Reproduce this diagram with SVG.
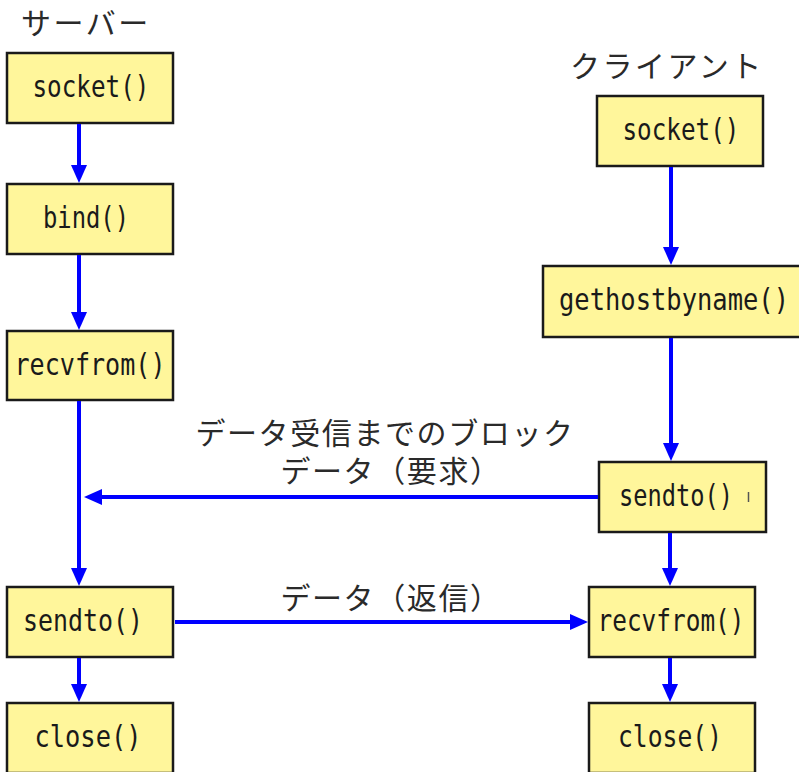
<svg xmlns="http://www.w3.org/2000/svg" width="799" height="772" viewBox="0 0 799 772">
  <defs>
    <style>
      .box { fill: #fff69b; stroke: #1a1a1a; stroke-width: 2.5; }
      .fn { font-family: "DejaVu Sans Mono", "Liberation Mono", monospace; font-size: 30px; fill: #1a1a1a; text-anchor: middle; }
      .jp { font-family: "Noto Sans CJK JP", "Noto Sans", sans-serif; font-size: 30px; fill: #2a2a2a; }
      .head { letter-spacing: 2.5px; }
      .lbl { text-anchor: middle; letter-spacing: 1.6px; }
      .flow { stroke: #0000ff; stroke-width: 4; fill: none; }
    </style>
    <marker id="arrow" markerUnits="userSpaceOnUse" markerWidth="24" markerHeight="20" viewBox="0 -10 24 20" refX="8" refY="0" orient="auto">
      <path d="M0,-8 L18,0 L0,8 Z" fill="#0000ff"/>
    </marker>
  </defs>

  <rect width="799" height="772" fill="#ffffff"/>

  <!-- column headings -->
  <text class="jp head" x="21" y="34">サーバー</text>
  <text class="jp head" x="570" y="77">クライアント</text>

  <!-- server side -->
  <g id="srv-socket">
    <rect class="box" x="7" y="53" width="166" height="70"/>
    <text class="fn" x="91" y="97" textLength="117" lengthAdjust="spacingAndGlyphs">socket()</text>
  </g>
  <g id="srv-bind">
    <rect class="box" x="7" y="184" width="166" height="70"/>
    <text class="fn" x="86" y="228" textLength="86" lengthAdjust="spacingAndGlyphs">bind()</text>
  </g>
  <g id="srv-recvfrom">
    <rect class="box" x="7" y="331" width="166" height="69"/>
    <text class="fn" x="90" y="375" textLength="151" lengthAdjust="spacingAndGlyphs">recvfrom()</text>
  </g>
  <g id="srv-sendto">
    <rect class="box" x="7" y="587" width="166" height="70"/>
    <text class="fn" x="83" y="631" textLength="120" lengthAdjust="spacingAndGlyphs">sendto()</text>
  </g>
  <g id="srv-close">
    <rect class="box" x="7" y="703" width="166" height="70"/>
    <text class="fn" x="88" y="747" textLength="107" lengthAdjust="spacingAndGlyphs">close()</text>
  </g>

  <!-- client side -->
  <g id="cli-socket">
    <rect class="box" x="597" y="96" width="166" height="70"/>
    <text class="fn" x="681" y="140" textLength="117" lengthAdjust="spacingAndGlyphs">socket()</text>
  </g>
  <g id="cli-gethostbyname">
    <rect class="box" x="543" y="266" width="258" height="71"/>
    <text class="fn" x="674" y="310" textLength="230" lengthAdjust="spacingAndGlyphs">gethostbyname()</text>
  </g>
  <g id="cli-sendto">
    <rect class="box" x="599" y="462" width="167" height="70"/>
    <text class="fn" x="676" y="506" textLength="114" lengthAdjust="spacingAndGlyphs">sendto()</text>
    <line x1="748.5" y1="492" x2="748.5" y2="502" stroke="#555" stroke-width="1.5"/>
  </g>
  <g id="cli-recvfrom">
    <rect class="box" x="589" y="587" width="166" height="70"/>
    <text class="fn" x="671" y="631" textLength="147" lengthAdjust="spacingAndGlyphs">recvfrom()</text>
  </g>
  <g id="cli-close">
    <rect class="box" x="589" y="703" width="166" height="70"/>
    <text class="fn" x="670" y="747" textLength="104" lengthAdjust="spacingAndGlyphs">close()</text>
  </g>

  <!-- connectors -->
  <g id="connectors">
    <line class="flow" x1="79" y1="124" x2="79" y2="173" marker-end="url(#arrow)"/>
    <line class="flow" x1="79" y1="255" x2="79" y2="320" marker-end="url(#arrow)"/>
    <line class="flow" x1="79" y1="401" x2="79" y2="576" marker-end="url(#arrow)"/>
    <line class="flow" x1="79" y1="658" x2="79" y2="692" marker-end="url(#arrow)"/>

    <line class="flow" x1="671" y1="167" x2="671" y2="255" marker-end="url(#arrow)"/>
    <line class="flow" x1="671" y1="338" x2="671" y2="451" marker-end="url(#arrow)"/>
    <line class="flow" x1="670" y1="533" x2="670" y2="576" marker-end="url(#arrow)"/>
    <line class="flow" x1="670" y1="658" x2="670" y2="692" marker-end="url(#arrow)"/>

    <line class="flow" x1="598" y1="497" x2="94" y2="497" marker-end="url(#arrow)"/>
    <line class="flow" x1="175" y1="622" x2="578" y2="622" marker-end="url(#arrow)"/>

    <text class="jp lbl" x="385" y="444">データ受信までのブロック</text>
    <text class="jp lbl" x="391" y="482">データ（要求）</text>
    <text class="jp lbl" x="391" y="609">データ（返信）</text>
  </g>
</svg>
